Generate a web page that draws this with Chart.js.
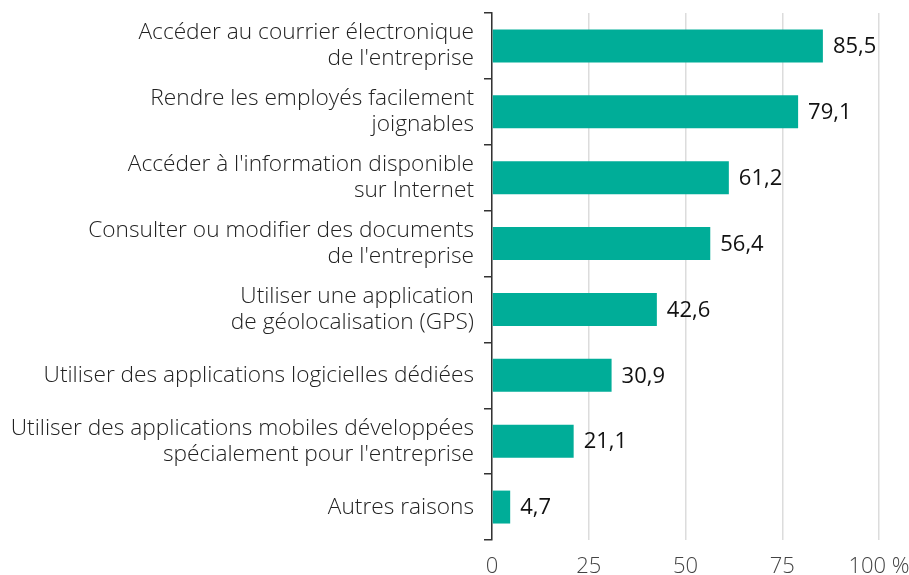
<!DOCTYPE html>
<html lang="fr">
<head>
<meta charset="UTF-8">
<title>Raisons d'utilisation des appareils mobiles</title>
<style>
  html, body { margin: 0; padding: 0; background: #fff; }
  #wrap { width: 909px; height: 575px; }
</style>
</head>
<body>
<div id="wrap"><canvas id="myChart" width="909" height="575"></canvas></div>
<script src="https://cdn.jsdelivr.net/npm/chart.js"></script>
<script>
const categories = [
    ["Accéder au courrier électronique", "de l'entreprise"],
    ["Rendre les employés facilement", "joignables"],
    ["Accéder à l'information disponible", "sur Internet"],
    ["Consulter ou modifier des documents", "de l'entreprise"],
    ["Utiliser une application", "de géolocalisation (GPS)"],
    "Utiliser des applications logicielles dédiées",
    ["Utiliser des applications mobiles développées", "spécialement pour l'entreprise"],
    "Autres raisons"
];
const values = [85.5, 79.1, 61.2, 56.4, 42.6, 30.9, 21.1, 4.7];
const xTicks = [0, 25, 50, 75, 100];

const fmt = v => v.toFixed(1).replace('.', ',');

// writes the value just after the end of each bar
const valueLabels = {
    id: 'valueLabels',
    afterDatasetsDraw(chart) {
        const ctx = chart.ctx;
        const meta = chart.getDatasetMeta(0);
        ctx.save();
        ctx.font = '22px "Open Sans"';
        ctx.fillStyle = '#111';
        ctx.textAlign = 'left';
        ctx.textBaseline = 'middle';
        meta.data.forEach((bar, i) => {
            ctx.fillText(fmt(values[i]), bar.x + 10, bar.y + 1);
        });
        ctx.restore();
    }
};

const data = {
    labels: categories,
    datasets: [{
        data: values,
        backgroundColor: '#00ad98',
        borderWidth: 0,
        barPercentage: 0.5,
        categoryPercentage: 1
    }]
};

const config = {
    type: 'bar',
    data: data,
    options: {
        indexAxis: 'y',
        responsive: false,
        animation: false,
        layout: { padding: { top: 13, right: 30, bottom: 0, left: 0 } },
        plugins: {
            legend: { display: false },
            tooltip: { enabled: false }
        },
        scales: {
            x: {
                min: 0,
                max: 100,
                afterBuildTicks: s => { s.ticks = xTicks.map(v => ({ value: v })); },
                afterFit: s => {
                    s.height = 35;
                    s.paddingLeft = 0;
                    s.paddingRight = 0;
                },
                ticks: {
                    callback: v => v === 100 ? '100 %' : v,
                    color: '#444',
                    font: { family: 'Open Sans', size: 22, weight: 300 },
                    padding: 14,
                    maxRotation: 0
                },
                grid: { color: '#dcdcdc', lineWidth: 1.5, drawTicks: false },
                border: { display: false }
            },
            y: {
                afterFit: s => {
                    s.width = 492;
                    s.paddingTop = 0;
                    s.paddingBottom = 0;
                },
                ticks: {
                    color: '#222',
                    font: { family: 'Open Sans', size: 22.7, weight: 300, lineHeight: 1.15 },
                    padding: 10
                },
                grid: {
                    offset: true,
                    drawOnChartArea: false,
                    tickLength: 8,
                    color: '#333',
                    lineWidth: 1.5
                },
                border: { display: true, color: '#333', width: 1.5 }
            }
        }
    },
    plugins: [valueLabels]
};

const myChart = new Chart(document.getElementById('myChart'), config);
</script>
</body>
</html>
